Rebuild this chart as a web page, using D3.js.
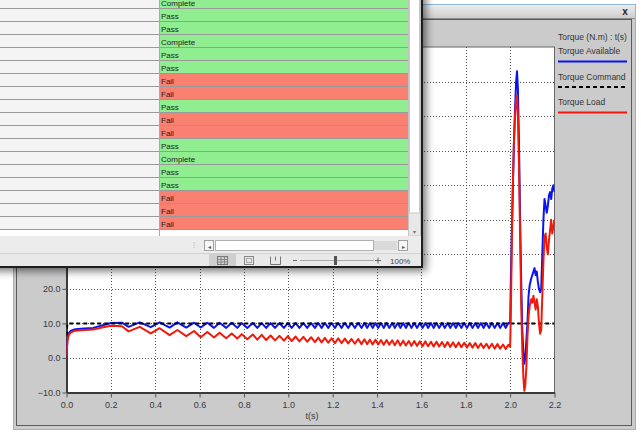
<!DOCTYPE html>
<html>
<head>
<meta charset="utf-8">
<script src="https://cdn.jsdelivr.net/npm/d3@7"></script>
<style>
body { margin: 0; background: #fff; }
svg { display: block; font-family: "Liberation Sans", Arial, sans-serif; }
</style>
</head>
<body>
<script>
// ---- data ----
var xTicks = [0, 0.2, 0.4, 0.6, 0.8, 1.0, 1.2, 1.4, 1.6, 1.8, 2.0, 2.2];
var yTicks = [-10, 0, 10, 20, 30, 40, 50, 60, 70, 80];

var time = [0, 0.004, 0.01, 0.02, 0.04, 0.08, 0.12, 0.16, 0.2, 0.25,
  0.28, 0.33, 0.38, 0.42, 0.465, 0.50, 0.54, 0.575, 0.605, 0.635,
  0.665, 0.69, 0.72, 0.745, 0.77, 0.79, 0.815, 0.84, 0.86, 0.88,
  0.90, 0.92, 0.94, 0.96, 0.98, 0.998, 1.015, 1.033, 1.05, 1.068,
  1.085, 1.103, 1.12, 1.135, 1.15, 1.165, 1.18, 1.195, 1.21, 1.225,
  1.24, 1.255, 1.27, 1.285, 1.30, 1.315, 1.33, 1.343, 1.355, 1.368,
  1.38, 1.393, 1.405, 1.418, 1.43, 1.443, 1.455, 1.468, 1.48, 1.493,
  1.505, 1.518, 1.53, 1.543, 1.555, 1.568, 1.58, 1.593, 1.605, 1.618,
  1.63, 1.643, 1.655, 1.668, 1.68, 1.693, 1.705, 1.718, 1.73, 1.743,
  1.755, 1.768, 1.78, 1.793, 1.805, 1.818, 1.83, 1.843, 1.855, 1.868,
  1.88, 1.893, 1.905, 1.918, 1.93, 1.943, 1.955, 1.968, 1.98, 1.992,
  2.000, 2.003, 2.007, 2.012, 2.017, 2.022, 2.027, 2.031, 2.035, 2.040,
  2.045, 2.050, 2.055, 2.060, 2.064, 2.068, 2.073, 2.078, 2.083, 2.088,
  2.095, 2.100, 2.105, 2.110, 2.115, 2.120, 2.125, 2.130, 2.135, 2.140,
  2.145, 2.150, 2.155, 2.160, 2.165, 2.170, 2.175, 2.180, 2.185, 2.190,
  2.195, 2.200];

var torqueAvailable = [0, 5.5, 7.2, 7.9, 8.3, 8.5, 8.7, 9.4, 10.1, 10.2,
  9.0, 10.3, 8.9, 10.3, 8.8, 10.3, 8.8, 10.2, 8.8, 10.2,
  8.7, 10.2, 8.7, 10.2, 8.7, 10.1, 8.7, 10.1, 8.7, 10.1,
  8.7, 10.1, 8.7, 10.1, 8.7, 10.1, 8.7, 10.1, 8.7, 10.1,
  8.7, 10.1, 8.7, 10.1, 8.7, 10.1, 8.7, 10.1, 8.7, 10.1,
  8.7, 10.1, 8.7, 10.1, 8.7, 10.1, 8.7, 10.1, 8.7, 10.1,
  8.7, 10.1, 8.7, 10.1, 8.7, 10.1, 8.7, 10.1, 8.7, 10.1,
  8.7, 10.1, 8.7, 10.1, 8.7, 10.1, 8.7, 10.1, 8.7, 10.1,
  8.7, 10.1, 8.7, 10.1, 8.7, 10.1, 8.7, 10.1, 8.7, 10.1,
  8.7, 10.1, 8.7, 10.1, 8.7, 10.1, 8.7, 10.1, 8.7, 10.1,
  8.7, 10.1, 8.7, 10.1, 8.7, 10.1, 8.7, 10.1, 8.7, 10.1,
  10.0, 22, 35, 48, 62, 72, 80, 83, 78, 62,
  40, 22, 8, 1, -1.7, 0, 5, 10, 18, 21,
  23, 24, 25, 26, 24, 25, 22, 20, 19, 20,
  30, 40, 46, 44, 42, 44, 47, 48, 46, 49,
  50, 48];

var torqueLoad = [0, 5.0, 6.6, 7.4, 7.9, 8.1, 8.2, 8.8, 9.3, 9.2,
  7.7, 9.0, 7.1, 8.6, 6.6, 8.1, 6.3, 7.8, 6.0, 7.5,
  5.9, 7.3, 5.7, 7.1, 5.6, 6.9, 5.4, 6.8, 5.3, 6.7,
  5.2, 6.5, 5.1, 6.4, 5.0, 6.3, 4.9, 6.2, 4.8, 6.1,
  4.7, 6.0, 4.6, 5.9, 4.5, 5.8, 4.4, 5.7, 4.3, 5.7,
  4.3, 5.6, 4.2, 5.5, 4.1, 5.5, 4.0, 5.4, 4.0, 5.3,
  3.9, 5.3, 3.9, 5.2, 3.8, 5.2, 3.8, 5.1, 3.7, 5.1,
  3.6, 5.0, 3.6, 4.9, 3.5, 4.9, 3.5, 4.8, 3.4, 4.8,
  3.4, 4.7, 3.3, 4.7, 3.3, 4.6, 3.2, 4.6, 3.2, 4.5,
  3.1, 4.5, 3.1, 4.4, 3.0, 4.3, 3.0, 4.3, 2.9, 4.2,
  2.9, 4.1, 2.8, 4.1, 2.7, 4.0, 2.7, 3.9, 2.6, 3.8,
  3.2, 12, 30, 50, 62, 70, 75, 76, 70, 55,
  35, 15, 2, -6, -9.5, -8, -3, 6, 12, 15,
  17, 16, 18, 16, 14, 17, 15, 10, 7, 8,
  18, 28, 35, 36, 32, 30, 34, 37, 40, 36,
  38, 40];

var commandTime = [0, 0.004, 2.2];
var torqueCommand = [6.5, 10, 10];

var legendNames = ["Torque Available", "Torque Command", "Torque Load"];
var legendTitle = "Torque (N.m) : t(s)";

var statusRows = ["Complete", "Pass", "Pass", "Complete", "Pass", "Pass", "Fail", "Fail", "Pass",
  "Fail", "Fail", "Pass", "Complete", "Pass", "Pass", "Fail", "Fail", "Fail"];

// ---- svg ----
var width = 641, height = 434;
var svg = d3.select("body").append("svg")
    .attr("width", width)
    .attr("height", height);

var defs = svg.append("defs");
var tg = defs.append("linearGradient").attr("id", "titleGrad")
    .attr("x1", 0).attr("y1", 0).attr("x2", 0).attr("y2", 1);
tg.append("stop").attr("offset", "0%").attr("stop-color", "#ededed");
tg.append("stop").attr("offset", "100%").attr("stop-color", "#cdcdcd");

defs.append("filter").attr("id", "blur")
    .attr("x", "-10%").attr("y", "-10%").attr("width", "120%").attr("height", "120%")
  .append("feGaussianBlur").attr("stdDeviation", 4);

defs.append("clipPath").attr("id", "plotClip")
  .append("rect").attr("x", 66.5).attr("y", 47).attr("width", 488).attr("height", 345.5);

// chart window frame
svg.append("rect")
    .attr("x", 13.5).attr("y", 4.5).attr("width", 622).attr("height", 425)
    .attr("fill", "#cbcbcb").attr("stroke", "#8fb7d8");
svg.append("rect")
    .attr("x", 14).attr("y", 5).attr("width", 621).attr("height", 13)
    .attr("fill", "url(#titleGrad)");
svg.append("line")
    .attr("x1", 14).attr("x2", 635).attr("y1", 18.5).attr("y2", 18.5)
    .attr("stroke", "#8c8c8c");
svg.append("rect")
    .attr("x", 16.5).attr("y", 19.5).attr("width", 615).attr("height", 406)
    .attr("fill", "none").attr("stroke", "#5a5a5a");
svg.append("text")
    .attr("x", 625).attr("y", 14.5)
    .attr("text-anchor", "middle")
    .style("font-size", "10px").style("font-weight", 700)
    .style("fill", "#222")
    .text("x");

// scales
var x = d3.scaleLinear().domain([0, 2.2]).range([66.5, 554.5]);
var y = d3.scaleLinear().domain([-10, 90]).range([392.5, 47]);

// plot area
svg.append("rect")
    .attr("x", 66.5).attr("y", 47).attr("width", 488).attr("height", 345.5)
    .attr("fill", "#fff").attr("stroke", "#666");

// grid
svg.append("g").selectAll("line")
    .data(xTicks.slice(1, -1))
    .enter().append("line")
    .attr("x1", function(d) { return Math.round(x(d)) + 0.5; })
    .attr("x2", function(d) { return Math.round(x(d)) + 0.5; })
    .attr("y1", 47).attr("y2", 392)
    .attr("stroke", "#555").attr("stroke-dasharray", "1,2");
svg.append("g").selectAll("line")
    .data(yTicks.slice(1))
    .enter().append("line")
    .attr("y1", function(d) { return Math.round(y(d)) + 0.5; })
    .attr("y2", function(d) { return Math.round(y(d)) + 0.5; })
    .attr("x1", 67).attr("x2", 554)
    .attr("stroke", "#555").attr("stroke-dasharray", "1,2");

// axes
var fmt = d3.format(".1f");
var yAxis = svg.append("g")
    .attr("transform", "translate(66.5,0)")
    .call(d3.axisLeft(y).tickValues(yTicks).tickFormat(fmt).tickSize(4).tickSizeOuter(0).tickPadding(2));
var xAxis = svg.append("g")
    .attr("transform", "translate(0,392.5)")
    .call(d3.axisBottom(x).tickValues(xTicks).tickFormat(fmt).tickSize(5).tickSizeOuter(0).tickPadding(4));
[yAxis, xAxis].forEach(function(a) {
  a.select(".domain").attr("stroke", "#3a3a3a").attr("stroke-width", 2);
  a.selectAll(".tick line").attr("stroke", "#555");
  a.selectAll("text").style("font-family", "Liberation Sans, Arial, sans-serif")
    .style("font-size", "9px").style("fill", "#3a3a3a");
});

svg.append("text")
    .attr("x", 312).attr("y", 419)
    .attr("text-anchor", "middle")
    .style("font-size", "9px").style("fill", "#3a3a3a")
    .text("t(s)");

// series
var line = d3.line()
    .x(function(d) { return x(d[0]); })
    .y(function(d) { return y(d[1]); });

var availData = time.map(function(t, i) { return [t, torqueAvailable[i]]; });
var loadData = time.map(function(t, i) { return [t, torqueLoad[i]]; });
var cmdData = commandTime.map(function(t, i) { return [t, torqueCommand[i]]; });

var plot = svg.append("g").attr("clip-path", "url(#plotClip)");
plot.append("path").datum(availData)
    .attr("d", line).attr("fill", "none")
    .attr("stroke", "#0a14f0").attr("stroke-width", 2).attr("stroke-linejoin", "round");
plot.append("path").datum(cmdData)
    .attr("d", line).attr("fill", "none")
    .attr("stroke", "#000").attr("stroke-width", 2).attr("stroke-dasharray", "4,3");
plot.append("path").datum(loadData)
    .attr("d", line).attr("fill", "none")
    .attr("stroke", "#f01a0a").attr("stroke-width", 2).attr("stroke-linejoin", "round");

// legend
var legend = svg.append("g").style("font-size", "8.5px").style("fill", "#333");
legend.append("text").attr("x", 558).attr("y", 40).text(legendTitle);
var legendColors = ["#0a14f0", "#000", "#f01a0a"];
var legendDash = [null, "4,3", null];
legendNames.forEach(function(name, i) {
  var top = 54 + i * 25.5;
  legend.append("text").attr("x", 558).attr("y", top).text(name);
  legend.append("line")
      .attr("x1", 558).attr("x2", 627)
      .attr("y1", top + 7.5).attr("y2", top + 7.5)
      .attr("stroke", legendColors[i]).attr("stroke-width", 2)
      .attr("stroke-dasharray", legendDash[i]);
});

// ---- overlapping spreadsheet window ----
var sheet = svg.append("g");
sheet.append("rect")
    .attr("x", -10).attr("y", -10).attr("width", 436).attr("height", 281)
    .attr("fill", "#000").attr("opacity", 0.55).attr("filter", "url(#blur)");
sheet.append("rect")
    .attr("x", 0).attr("y", 0).attr("width", 423).attr("height", 268)
    .attr("fill", "#ececec");

var rowH = 13, rowTop = -4;
var rows = sheet.append("g").selectAll("g")
    .data(statusRows)
    .enter().append("g")
    .attr("transform", function(d, i) { return "translate(0," + (rowTop + i * rowH) + ")"; });
rows.append("rect")
    .attr("x", 0).attr("y", 0).attr("width", 159).attr("height", rowH)
    .attr("fill", "#f4f4f4");
rows.append("rect")
    .attr("x", 159).attr("y", 0).attr("width", 249).attr("height", rowH)
    .attr("fill", function(d) { return d == "Fail" ? "#fa8072" : "#90ee90"; });
rows.append("line")
    .attr("x1", 0).attr("x2", 408).attr("y1", rowH - 0.5).attr("y2", rowH - 0.5)
    .attr("stroke", "#9a9a9a");
rows.append("text")
    .attr("x", 161).attr("y", 9.5)
    .style("font-size", "8px").style("fill", "#222")
    .text(function(d) { return d; });

var gridBottom = rowTop + statusRows.length * rowH;
sheet.append("rect")
    .attr("x", 0).attr("y", gridBottom).attr("width", 408).attr("height", 236 - gridBottom)
    .attr("fill", "#fff");
sheet.append("line")
    .attr("x1", 159.5).attr("x2", 159.5).attr("y1", 0).attr("y2", 236)
    .attr("stroke", "#a8a8a8");

// vertical scrollbar
sheet.append("rect").attr("x", 408.5).attr("y", 0).attr("width", 12).attr("height", 236)
    .attr("fill", "#e8e8e8").attr("stroke", "#c4c4c4");
sheet.append("rect").attr("x", 409.5).attr("y", -2).attr("width", 10).attr("height", 215)
    .attr("fill", "#fff").attr("stroke", "#c8c8c8");
sheet.append("text").attr("x", 414.5).attr("y", 234)
    .attr("text-anchor", "middle").style("font-size", "6px").style("fill", "#777").text("▾");

// horizontal scrollbar row
sheet.append("rect").attr("x", 0).attr("y", 236).attr("width", 421).attr("height", 17)
    .attr("fill", "#ececec");
sheet.append("text").attr("x", 193).attr("y", 248).style("font-size", "8px").style("fill", "#aaa").text("⁝");
sheet.append("rect").attr("x", 204.5).attr("y", 240.5).attr("width", 9).attr("height", 10)
    .attr("fill", "#f6f6f6").attr("stroke", "#a0a0a0");
sheet.append("text").attr("x", 209).attr("y", 248.5).attr("text-anchor", "middle")
    .style("font-size", "6px").style("fill", "#555").text("◂");
sheet.append("rect").attr("x", 215.5).attr("y", 240.5).attr("width", 158).attr("height", 10)
    .attr("fill", "#fff").attr("stroke", "#b0b0b0");
sheet.append("rect").attr("x", 374).attr("y", 241).attr("width", 23).attr("height", 9)
    .attr("fill", "#dadada");
sheet.append("rect").attr("x", 398.5).attr("y", 240.5).attr("width", 9).attr("height", 10)
    .attr("fill", "#f6f6f6").attr("stroke", "#a0a0a0");
sheet.append("text").attr("x", 403).attr("y", 248.5).attr("text-anchor", "middle")
    .style("font-size", "6px").style("fill", "#555").text("▸");

// status bar
sheet.append("rect").attr("x", 0).attr("y", 253).attr("width", 421).attr("height", 14)
    .attr("fill", "#e9e9e9");
sheet.append("line").attr("x1", 0).attr("x2", 421).attr("y1", 253.5).attr("y2", 253.5)
    .attr("stroke", "#d2d2d2");
sheet.append("rect").attr("x", 209).attr("y", 254).attr("width", 27).attr("height", 13)
    .attr("fill", "#cfcfcf");
sheet.append("rect").attr("x", 217.5).attr("y", 256.5).attr("width", 10).attr("height", 8)
    .attr("fill", "none").attr("stroke", "#777");
sheet.append("path").attr("d", "M217.5,259.5H227.5M217.5,262H227.5M221,256.5V264.5M224.5,256.5V264.5")
    .attr("stroke", "#888").attr("fill", "none");
sheet.append("rect").attr("x", 244.5).attr("y", 256.5).attr("width", 9).attr("height", 8)
    .attr("fill", "none").attr("stroke", "#888");
sheet.append("rect").attr("x", 246.5).attr("y", 258.5).attr("width", 5).attr("height", 4)
    .attr("fill", "none").attr("stroke", "#aaa");
sheet.append("path").attr("d", "M270.5,256.5V264.5H280.5V256.5M275.5,256.5V260.5")
    .attr("stroke", "#777").attr("fill", "none");
sheet.append("line").attr("x1", 293).attr("x2", 297).attr("y1", 260.5).attr("y2", 260.5)
    .attr("stroke", "#666");
sheet.append("line").attr("x1", 300).attr("x2", 374).attr("y1", 260.5).attr("y2", 260.5)
    .attr("stroke", "#aaa");
sheet.append("rect").attr("x", 334).attr("y", 256).attr("width", 3).attr("height", 9)
    .attr("fill", "#555");
sheet.append("path").attr("d", "M375,260.5H381M378,257.5V263.5")
    .attr("stroke", "#666").attr("fill", "none");
sheet.append("text").attr("x", 390).attr("y", 263.5)
    .style("font-size", "8px").style("fill", "#444").text("100%");

// window border
sheet.append("path").attr("d", "M422,0V267H0")
    .attr("stroke", "#1e1e1e").attr("stroke-width", 2).attr("fill", "none");
</script>
</body>
</html>
